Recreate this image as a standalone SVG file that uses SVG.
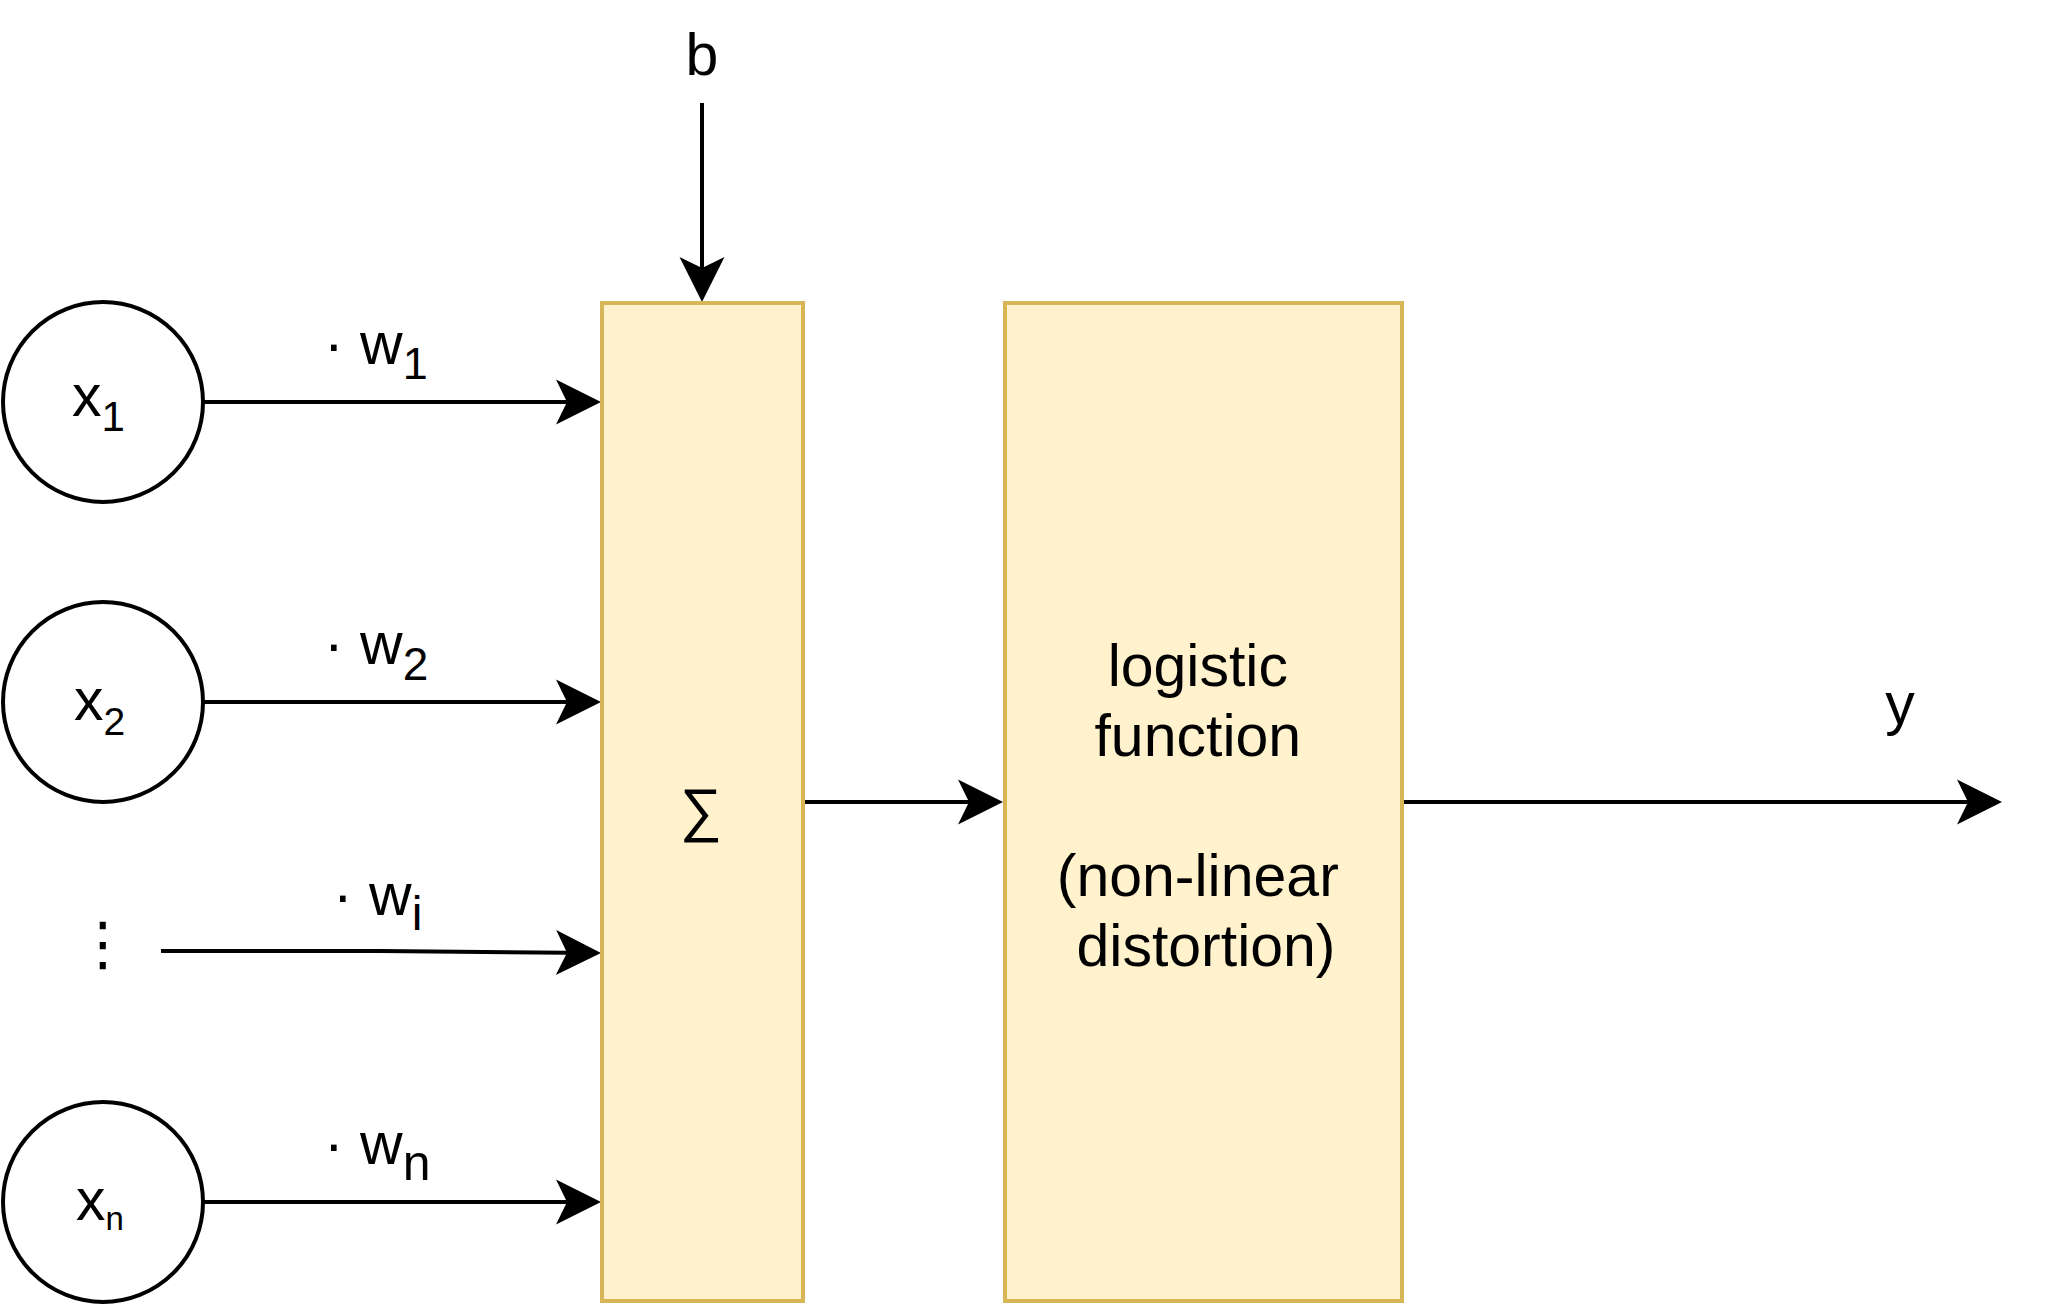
<svg xmlns="http://www.w3.org/2000/svg" width="2045" height="1305" viewBox="0 0 2045 1305">
  <style>
    .t { font-family: "Liberation Sans", Arial, sans-serif; font-size: 59px; fill: #000; }
    .box { fill: #fff2cc; stroke: #d6b656; stroke-width: 4; }
    .in { fill: #fff; stroke: #000; stroke-width: 4; }
    .edge { fill: none; stroke: #000; stroke-width: 4; marker-end: url(#arr); }
  </style>
  <defs>
    <marker id="arr" markerUnits="userSpaceOnUse" viewBox="0 -23 46 46" markerWidth="46" markerHeight="46" refX="11" refY="0" orient="auto" overflow="visible">
      <path d="M0,-22.5 L45,0 L0,22.5 L11,0 Z" fill="#000"/>
    </marker>
  </defs>
  <rect width="2045" height="1305" fill="#fff"/>

  <g id="edges">
    <path class="edge" d="M702 103 L702 268"/>
    <path class="edge" d="M203 402 L567 402"/>
    <path class="edge" d="M203 702 L567 702"/>
    <path class="edge" d="M161 951 L380 951 L567 952.7"/>
    <path class="edge" d="M203 1202 L567 1202"/>
    <path class="edge" d="M805 802 L969 802"/>
    <path class="edge" d="M1404 802 L1968 802"/>
  </g>

  <g id="node-sum">
    <rect class="box" x="602" y="303" width="201" height="998"/>
    <text class="t" x="701" y="830" text-anchor="middle">∑</text>
  </g>

  <g id="node-logistic">
    <rect class="box" x="1005" y="303" width="397" height="998"/>
    <text class="t" text-anchor="middle">
      <tspan x="1206" y="686">logistic</tspan>
      <tspan x="1206" y="756">function</tspan>
      <tspan x="1206" y="896">(non-linear</tspan>
      <tspan x="1206" y="966">distortion)</tspan>
    </text>
  </g>

  <g id="node-x1">
    <circle class="in" cx="103" cy="402" r="100"/>
    <text class="t" x="72" y="416">x<tspan y="431" font-size="42">1</tspan></text>
  </g>
  <g id="node-x2">
    <circle class="in" cx="103" cy="702" r="100"/>
    <text class="t" x="74" y="720">x<tspan y="735" font-size="39">2</tspan></text>
  </g>
  <g id="node-dots">
    <text class="t" x="103" y="964" text-anchor="middle" style="font-family:'DejaVu Sans', sans-serif" font-size="43">⋮</text>
  </g>
  <g id="node-xn">
    <circle class="in" cx="103" cy="1202" r="100"/>
    <text class="t" x="76" y="1220">x<tspan y="1230" font-size="33">n</tspan></text>
  </g>

  <g id="labels">
    <text id="label-b" class="t" x="702" y="75" text-anchor="middle">b</text>
    <text id="label-w1" class="t" x="324" y="364">· w<tspan y="379" font-size="45">1</tspan></text>
    <text id="label-w2" class="t" x="324" y="664">· w<tspan y="680" font-size="46">2</tspan></text>
    <text id="label-wi" class="t" x="333" y="915">· w<tspan y="930" font-size="48">i</tspan></text>
    <text id="label-wn" class="t" x="324" y="1164">· w<tspan y="1180" font-size="50">n</tspan></text>
    <text id="label-y" class="t" x="1900" y="724" text-anchor="middle">y</text>
  </g>
</svg>
